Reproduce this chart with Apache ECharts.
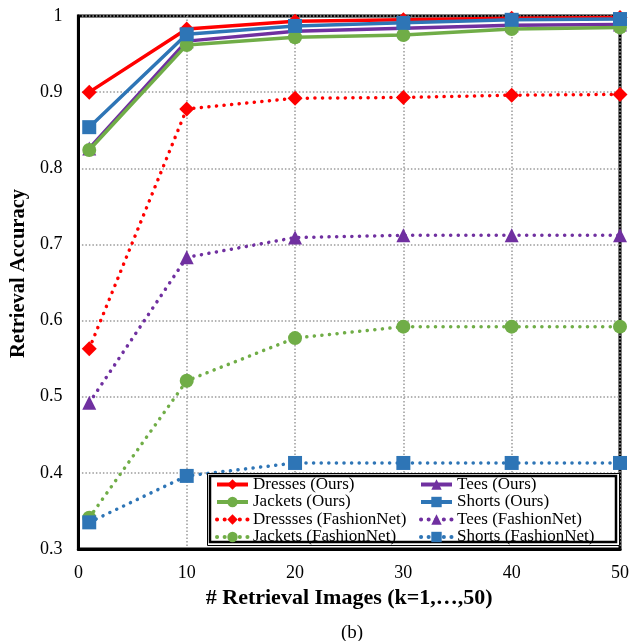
<!DOCTYPE html>
<html><head><meta charset="utf-8">
<script src="https://cdn.jsdelivr.net/npm/echarts@6/dist/echarts.min.js"></script>
<style>html,body{margin:0;padding:0;background:#fff}#c{width:632px;height:641px}</style>
</head><body><div id="c"></div>
<script>
const kValues = [1, 10, 20, 30, 40, 50];
const xTicks = [0, 10, 20, 30, 40, 50];
const yTicks = [0.3, 0.4, 0.5, 0.6, 0.7, 0.8, 0.9, 1];
const dressesOurs = [0.900, 0.983, 0.993, 0.995, 0.997, 0.998];
const jacketsOurs = [0.824, 0.962, 0.972, 0.975, 0.983, 0.985];
const teesOurs = [0.826, 0.967, 0.980, 0.984, 0.988, 0.989];
const shortsOurs = [0.854, 0.976, 0.987, 0.991, 0.995, 0.996];
const dressesFN = [0.563, 0.878, 0.892, 0.893, 0.896, 0.897];
const jacketsFN = [0.341, 0.521, 0.577, 0.592, 0.592, 0.592];
const teesFN = [0.492, 0.683, 0.709, 0.712, 0.712, 0.712];
const shortsFN = [0.335, 0.396, 0.413, 0.413, 0.413, 0.413];

const RED = '#FF0000', GREEN = '#70AD47', PURPLE = '#7030A0', BLUE = '#2E75B6';
const FONT = '"Liberation Serif", "Times New Roman", serif';

function pairs(arr) { return kValues.map((k, i) => [k, arr[i]]); }
function mk(name, data, color, symbol, size, dotted) {
  return {
    name, type: 'line', data: pairs(data), color,
    symbol, symbolSize: size, showSymbol: true,
    lineStyle: dotted ? { width: 3.5, type: [0.1, 7.5], cap: 'round', color } : { width: 3.5, color },
    itemStyle: { color },
    emphasis: { disabled: true },
    animation: false
  };
}

const chart = echarts.init(document.getElementById('c'), null, { renderer: 'canvas' });
const legendCommon = {
  orient: 'vertical', itemWidth: 31, itemHeight: 13, itemGap: 0.5, z: 60,
  lineStyle: { width: 4 },
  textStyle: { fontFamily: FONT, fontSize: 17, color: '#000' },
  padding: 0, selectedMode: false
};
chart.setOption({
  animation: false,
  title: { text: '(b)', left: 336, top: 619, textStyle: { fontFamily: FONT, fontSize: 19, fontWeight: 'normal', color: '#000' } },
  grid: { left: 77, right: 6, top: 16, bottom: 92, show: true, borderColor: '#000', borderWidth: 3, backgroundColor: '#fff' },
  xAxis: {
    type: 'value', min: xTicks[0], max: xTicks[xTicks.length - 1], interval: 10,
    name: '# Retrieval Images (k=1,…,50)', nameLocation: 'middle', nameGap: 32,
    nameTextStyle: { fontFamily: FONT, fontSize: 22, fontWeight: 'bold', color: '#000' },
    axisLine: { show: true, lineStyle: { color: '#000', width: 3 } },
    axisTick: { show: false },
    axisLabel: { fontFamily: FONT, fontSize: 18, color: '#000', margin: 15 },
    splitLine: { show: true, lineStyle: { color: '#9a9a9a', width: 1.5, type: [1.5, 2] } }
  },
  yAxis: {
    type: 'value', min: yTicks[0], max: yTicks[yTicks.length - 1], interval: 0.1,
    name: 'Retrieval Accuracy', nameLocation: 'middle', nameGap: 38,
    nameTextStyle: { fontFamily: FONT, fontSize: 20.5, fontWeight: 'bold', color: '#000', padding: [0, 0, 0, 18] },
    axisLine: { show: true, lineStyle: { color: '#000', width: 3 } },
    axisTick: { show: false },
    axisLabel: { fontFamily: FONT, fontSize: 18, color: '#000', margin: 16,
      formatter: v => String(Math.round(v * 10) / 10) },
    splitLine: { show: true, lineStyle: { color: '#9a9a9a', width: 1.5, type: [1.5, 2] } }
  },
  legend: [
    Object.assign({ left: 215, top: 476, data: ['Dresses (Ours)', 'Jackets (Ours)', 'Dressses (FashionNet)', 'Jackets (FashionNet)'] }, legendCommon),
    Object.assign({ left: 419, top: 476, data: ['Tees (Ours)', 'Shorts (Ours)', 'Tees (FashionNet)', 'Shorts (FashionNet)'] }, legendCommon)
  ],
  graphic: [
    { type: 'rect', z: 50, shape: { x: 207.5, y: 473.5, width: 412, height: 72 }, style: { fill: '#fff', stroke: '#000', lineWidth: 1 } },
    { type: 'rect', z: 51, shape: { x: 210, y: 476, width: 406, height: 66 }, style: { fill: '#fff', stroke: '#000', lineWidth: 2.5 } }
  ],
  series: [
    mk('Dressses (FashionNet)', dressesFN, RED, 'diamond', 15, true),
    mk('Tees (FashionNet)', teesFN, PURPLE, 'triangle', 14, true),
    mk('Jackets (FashionNet)', jacketsFN, GREEN, 'circle', 14, true),
    mk('Shorts (FashionNet)', shortsFN, BLUE, 'rect', 14, true),
    mk('Dresses (Ours)', dressesOurs, RED, 'diamond', 15, false),
    mk('Tees (Ours)', teesOurs, PURPLE, 'triangle', 14, false),
    mk('Jackets (Ours)', jacketsOurs, GREEN, 'circle', 14, false),
    mk('Shorts (Ours)', shortsOurs, BLUE, 'rect', 14, false)
  ]
});
</script></body></html>
